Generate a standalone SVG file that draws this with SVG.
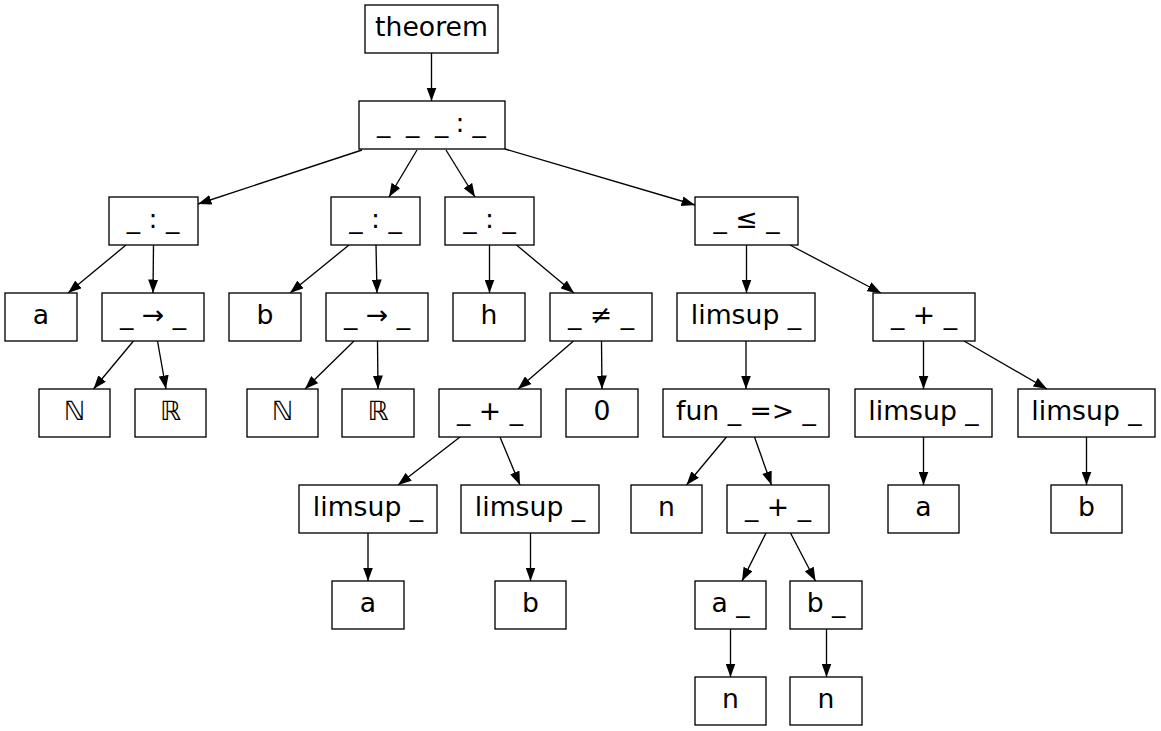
<svg xmlns="http://www.w3.org/2000/svg" width="1161" height="731" viewBox="0 0 1161 731">
<defs>
<marker id="ah" markerUnits="userSpaceOnUse" markerWidth="14" markerHeight="10" refX="13.5" refY="5" orient="auto">
<path d="M0,0 L13.5,5 L0,10 Z" fill="#000"/>
</marker>
<style>
rect{fill:#fff;stroke:#000;stroke-width:1.33}
text{font-family:"DejaVu Sans","Liberation Sans",sans-serif;font-size:26.67px;fill:#000;text-anchor:middle}
#edges line{stroke:#000;stroke-width:1.33;marker-end:url(#ah)}
</style>
</defs>
<rect x="0" y="0" width="1161" height="731" style="fill:#fff;stroke:none"/>
<g id="edges">
<line x1="431.5" y1="53" x2="431.5" y2="101"/>
<line x1="362" y1="150" x2="198" y2="204"/>
<line x1="417" y1="150" x2="389" y2="197"/>
<line x1="446" y1="150" x2="475" y2="197"/>
<line x1="505" y1="149" x2="695" y2="205"/>
<line x1="126" y1="245" x2="68" y2="293"/>
<line x1="153.5" y1="245" x2="153" y2="293"/>
<line x1="133.5" y1="341" x2="93.5" y2="389"/>
<line x1="157.5" y1="341" x2="166" y2="389"/>
<line x1="349" y1="245" x2="290" y2="293"/>
<line x1="376" y1="245" x2="377" y2="293"/>
<line x1="354" y1="341" x2="305" y2="389"/>
<line x1="377.5" y1="341" x2="378" y2="389"/>
<line x1="489.5" y1="245" x2="489.5" y2="293"/>
<line x1="516.5" y1="245" x2="574" y2="293"/>
<line x1="573.5" y1="341" x2="518" y2="389"/>
<line x1="601.5" y1="341" x2="602" y2="389"/>
<line x1="460" y1="437" x2="398" y2="485"/>
<line x1="500" y1="437" x2="520" y2="485"/>
<line x1="368" y1="533" x2="368" y2="581"/>
<line x1="530.5" y1="533" x2="530.5" y2="581"/>
<line x1="746.5" y1="245" x2="746.5" y2="293"/>
<line x1="790" y1="245" x2="881" y2="293"/>
<line x1="746" y1="341" x2="746" y2="389"/>
<line x1="726.5" y1="437" x2="686.5" y2="485"/>
<line x1="754.5" y1="437" x2="771.5" y2="485"/>
<line x1="766" y1="533" x2="742" y2="581"/>
<line x1="790.5" y1="533" x2="815.5" y2="581"/>
<line x1="730.5" y1="629" x2="730.5" y2="677"/>
<line x1="826.5" y1="629" x2="826.5" y2="677"/>
<line x1="923.5" y1="341" x2="923.5" y2="389"/>
<line x1="964" y1="341" x2="1047" y2="389"/>
<line x1="923.5" y1="437" x2="923.5" y2="485"/>
<line x1="1086.5" y1="437" x2="1086.5" y2="485"/>
</g>
<g id="n_theorem"><rect x="365" y="5" width="133" height="48"/><text x="431.5" y="36">theorem</text></g>
<g id="n_root"><rect x="359" y="101" width="146" height="48"/><text x="377 390 406 420 435 449 455.5 465 472.5" y="132" style="text-anchor:start">_ _ _ : _</text></g>
<g id="n_col1"><rect x="109" y="197" width="89" height="48"/><text x="153" y="228">_ : _</text></g>
<g id="n_col2"><rect x="331" y="197" width="89" height="48"/><text x="375.5" y="228">_ : _</text></g>
<g id="n_col3"><rect x="445" y="197" width="89" height="48"/><text x="489.5" y="228">_ : _</text></g>
<g id="n_le"><rect x="695" y="197" width="103" height="48"/><text x="746.5" y="228">_ ≤ _</text></g>
<g id="n_a1"><rect x="5" y="293" width="72" height="48"/><text x="41" y="324">a</text></g>
<g id="n_arr1"><rect x="102" y="293" width="102" height="48"/><text x="153" y="324">_ → _</text></g>
<g id="n_b1"><rect x="229" y="293" width="72" height="48"/><text x="265" y="324">b</text></g>
<g id="n_arr2"><rect x="326" y="293" width="102" height="48"/><text x="377" y="324">_ → _</text></g>
<g id="n_h"><rect x="453" y="293" width="72" height="48"/><text x="489" y="324">h</text></g>
<g id="n_ne"><rect x="550" y="293" width="102" height="48"/><text x="601" y="324">_ ≠ _</text></g>
<g id="n_limsup1"><rect x="677" y="293" width="138" height="48"/><text x="746" y="324">limsup _</text></g>
<g id="n_plus1"><rect x="873" y="293" width="102" height="48"/><text x="924" y="324">_ + _</text></g>
<g id="n_N1"><rect x="39" y="389" width="71" height="48"/><text x="74.5" y="420">ℕ</text></g>
<g id="n_R1"><rect x="135" y="389" width="71" height="48"/><text x="170.5" y="420">ℝ</text></g>
<g id="n_N2"><rect x="247" y="389" width="71" height="48"/><text x="282.5" y="420">ℕ</text></g>
<g id="n_R2"><rect x="342" y="389" width="72" height="48"/><text x="378" y="420">ℝ</text></g>
<g id="n_plus2"><rect x="439" y="389" width="102" height="48"/><text x="490" y="420">_ + _</text></g>
<g id="n_zero"><rect x="566" y="389" width="72" height="48"/><text x="602" y="420">0</text></g>
<g id="n_fun"><rect x="663" y="389" width="166" height="48"/><text x="746" y="420">fun _ =&gt; _</text></g>
<g id="n_limsup2"><rect x="855" y="389" width="137" height="48"/><text x="923.5" y="420">limsup _</text></g>
<g id="n_limsup3"><rect x="1018" y="389" width="137" height="48"/><text x="1086.5" y="420">limsup _</text></g>
<g id="n_limsup4"><rect x="299" y="485" width="138" height="48"/><text x="368" y="516">limsup _</text></g>
<g id="n_limsup5"><rect x="461" y="485" width="138" height="48"/><text x="530" y="516">limsup _</text></g>
<g id="n_n1"><rect x="631" y="485" width="71" height="48"/><text x="666.5" y="516">n</text></g>
<g id="n_plus3"><rect x="727" y="485" width="102" height="48"/><text x="778" y="516">_ + _</text></g>
<g id="n_a2"><rect x="888" y="485" width="71" height="48"/><text x="923.5" y="516">a</text></g>
<g id="n_b2"><rect x="1051" y="485" width="71" height="48"/><text x="1086.5" y="516">b</text></g>
<g id="n_a3"><rect x="332" y="581" width="72" height="48"/><text x="368" y="612">a</text></g>
<g id="n_b3"><rect x="495" y="581" width="71" height="48"/><text x="530.5" y="612">b</text></g>
<g id="n_aapp"><rect x="695" y="581" width="71" height="48"/><text x="730.5" y="612">a _</text></g>
<g id="n_bapp"><rect x="790" y="581" width="72" height="48"/><text x="826" y="612">b _</text></g>
<g id="n_n2"><rect x="695" y="677" width="71" height="48"/><text x="730.5" y="708">n</text></g>
<g id="n_n3"><rect x="790" y="677" width="72" height="48"/><text x="826" y="708">n</text></g>
</svg>
